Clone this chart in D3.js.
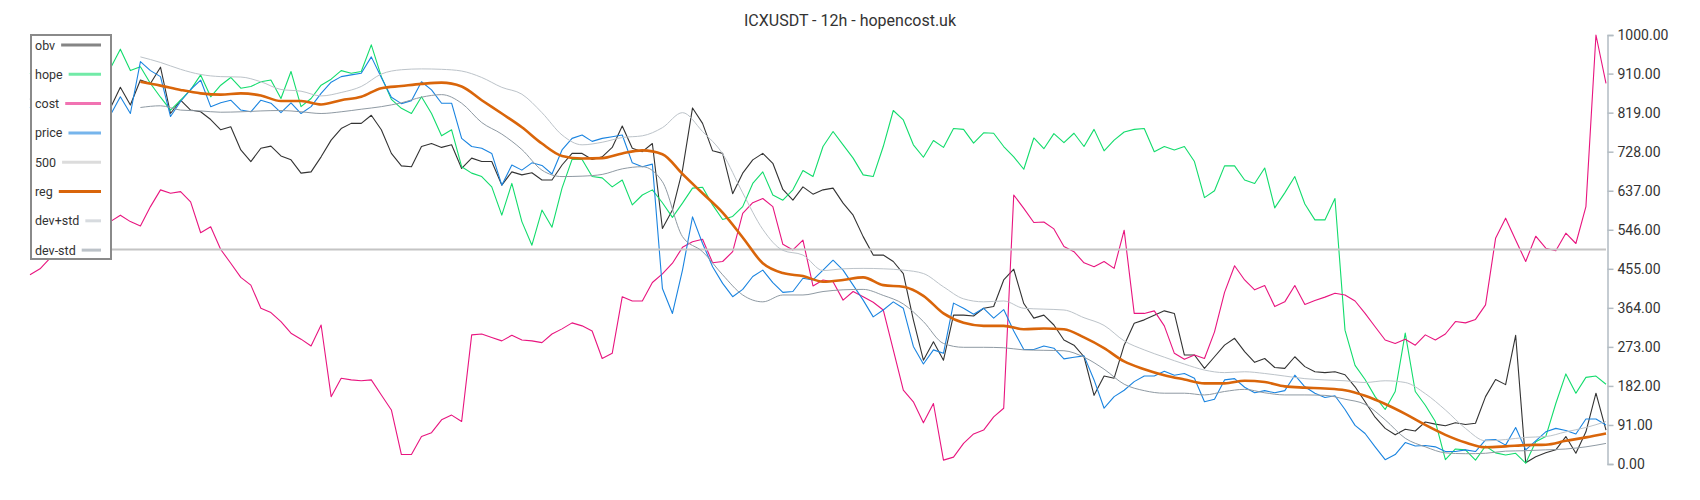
<!DOCTYPE html>
<html>
<head>
<meta charset="utf-8">
<script src="https://cdn.jsdelivr.net/npm/d3@7"></script>
<style>
  body { margin: 0; background: #fff; }
  svg { display: block; font-family: Roboto, "Noto Sans", sans-serif; }
</style>
</head>
<body>
<svg id="chart" width="1700" height="500"></svg>
<script>
// values, one per 12h step (downsampled)
const obv = [850,870,840,860,880,850,830,810,829,878,837,895,887,925,817,848,825,821,803,779,
  786,732,705,736,741,718,709,678,681,716,755,782,794,794,813,779,724,695,693,740,
  747,738,744,689,713,705,705,650,681,674,679,662,662,697,724,724,710,716,738,788,
  736,728,747,549,592,685,830,794,730,724,630,678,709,724,701,640,615,646,629,639,
  643,608,580,530,487,487,472,444,336,242,285,242,347,347,345,363,367,429,454,374,
  340,347,324,289,277,250,160,205,200,277,328,336,347,357,351,254,254,223,250,277,
  293,262,237,246,225,223,250,227,215,213,215,208,180,145,109,83,68,81,77,98,
  93,89,96,92,95,157,197,185,300,3,17,26,33,64,25,75,165,79];

const hope = [910,930,950,925,900,940,960,935,922,967,917,926,887,855,825,848,872,907,856,883,
  901,876,880,891,895,852,915,833,852,883,897,917,911,915,977,903,850,829,817,856,
  817,765,779,693,678,670,646,580,654,565,510,592,552,643,710,710,670,667,646,662,
  604,627,639,609,575,608,643,645,604,570,577,600,654,681,627,615,639,684,670,740,
  775,744,713,674,670,740,824,802,744,715,754,738,782,780,748,772,771,740,716,687,
  760,735,770,749,771,740,780,730,755,774,780,782,728,740,732,740,705,621,637,695,
  695,662,654,690,597,632,670,606,569,569,619,312,230,197,157,127,169,305,169,137,
  99,10,35,33,9,42,26,21,25,2,52,64,141,210,165,202,205,186];

const cost = [441,455,480,520,540,555,560,565,565,580,565,555,600,639,631,635,611,539,553,500,
  468,435,417,363,353,332,305,291,275,324,157,200,196,194,196,161,126,22,22,64,
  73,103,114,99,301,303,295,287,300,289,287,283,303,315,329,322,310,246,258,390,
  380,380,423,443,468,505,518,524,469,472,495,584,609,619,600,512,499,522,415,429,
  425,382,402,390,377,359,266,172,145,96,141,9,16,48,70,79,110,130,627,596,
  563,564,548,507,495,469,460,472,456,545,351,351,357,322,258,244,254,246,308,400,
  462,429,406,416,367,378,416,372,381,389,398,394,380,351,320,289,281,291,277,301,
  289,303,332,329,337,371,526,573,522,472,531,503,497,538,514,600,1000,887];

const price = [830,850,860,840,870,850,830,800,813,856,817,938,917,903,810,845,873,895,833,842,
  848,825,821,848,841,819,842,817,833,864,890,903,907,911,949,901,855,840,847,891,
  872,841,841,759,740,736,724,650,697,685,702,696,676,732,759,767,752,759,763,767,
  702,693,699,409,351,452,576,514,460,421,390,407,437,452,423,400,402,433,429,452,
  475,452,417,382,343,359,378,363,274,233,266,258,375,363,349,363,340,360,310,267,
  267,275,270,245,249,252,196,130,157,172,192,205,205,216,207,211,200,145,151,196,
  199,179,166,171,166,171,207,180,165,155,159,127,90,71,40,10,22,50,42,43,
  40,29,29,33,29,56,57,44,85,33,54,75,83,78,70,105,105,91];

// smooth series start at step 11 and are read every 2nd step
const smoothStart = 11;
const smoothStep = 2;

const reg = [891,882,872,864,861,864,859,846,846,838,848,856,876,881,886,889,880,848,817,785,
  747,718,712,713,724,731,722,676,631,586,528,468,445,438,425,429,435,417,413,392,
  351,329,322,322,314,316,314,295,270,239,221,207,197,188,188,194,191,181,178,176,
  172,159,140,117,91,68,50,39,41,44,45,54,62,71];

const devPlus = [949,936,920,908,903,902,891,873,869,858,866,880,909,919,921,920,916,901,878,862,
  819,767,744,750,761,765,784,819,775,723,632,547,498,487,451,455,456,455,452,444,
  413,385,378,380,363,361,359,341,323,287,266,249,233,219,213,215,211,205,199,196,
  194,190,194,190,164,126,83,54,57,62,64,75,85,99];

const devMinus = [831,835,825,823,820,821,823,824,821,817,821,827,833,842,855,861,841,796,769,733,
  685,670,671,675,688,693,658,530,495,441,394,378,394,394,402,406,407,393,373,332,
  281,272,272,271,266,265,264,249,221,186,171,165,165,161,169,174,166,161,161,160,
  151,139,103,60,40,26,24,25,30,31,33,35,40,48];

const level = 500;
const tickValues = [0, 91, 182, 273, 364, 455, 546, 637, 728, 819, 910, 1000];
const title = 'ICXUSDT - 12h - hopencost.uk';

const svg = d3.select('#chart');

const x = d3.scaleLinear().domain([0, obv.length - 1]).range([30, 1606]);
const y = d3.scaleLinear().domain([0, 1000]).range([464, 35]);

const rawLine = d3.line()
  .x((d, i) => x(i))
  .y((d) => y(d));

const smoothLine = d3.line()
  .x((d, i) => x(smoothStart + i * smoothStep))
  .y((d) => y(d))
  .curve(d3.curveMonotoneX);

const series = [
  { name: 'obv', color: '#333333', width: 1.1, path: rawLine(obv) },
  { name: 'hope', color: '#12dc6c', width: 1.1, path: rawLine(hope) },
  { name: 'cost', color: '#e8157f', width: 1.1, path: rawLine(cost) },
  { name: 'price', color: '#1a84e0', width: 1.1, path: rawLine(price) },
  { name: '500', color: '#c4c4c4', width: 2, path: rawLine(obv.map(() => level)) },
  { name: 'reg', color: '#d9650a', width: 2.6, path: smoothLine(reg) },
  { name: 'dev+std', color: '#bcc3c9', width: 1, path: smoothLine(devPlus) },
  { name: 'dev-std', color: '#8f9aa3', width: 1, path: smoothLine(devMinus) }
];

svg.append('g')
  .selectAll('path')
  .data(series)
  .enter()
  .append('path')
  .attr('d', (d) => d.path)
  .attr('fill', 'none')
  .attr('stroke', (d) => d.color)
  .attr('stroke-width', (d) => d.width)
  .attr('stroke-linejoin', 'round');

// right axis
const axis = svg.append('g')
  .attr('transform', 'translate(1607.5,0)')
  .call(d3.axisRight(y).tickValues(tickValues).tickFormat(d3.format('.2f')).tickSize(6).tickPadding(4));

axis.select('.domain').attr('stroke', '#b3bcc3').attr('stroke-width', 1.5);
axis.selectAll('.tick line').attr('stroke', '#b3bcc3').attr('stroke-width', 1.5);
axis.selectAll('.tick text')
  .attr('fill', '#333')
  .style('font-size', '14px')
  .style('font-family', 'Roboto, sans-serif');

// title
svg.append('text')
  .attr('x', 850)
  .attr('y', 26)
  .attr('text-anchor', 'middle')
  .attr('fill', '#333')
  .style('font-size', '16px')
  .text(title);

// legend
const legend = svg.append('g');

legend.append('rect')
  .attr('x', 31)
  .attr('y', 35)
  .attr('width', 80)
  .attr('height', 224)
  .attr('fill', '#fff')
  .attr('stroke', '#8a8a8a')
  .attr('stroke-width', 2);

const legendItem = legend.selectAll('g.item')
  .data(series)
  .enter()
  .append('g')
  .attr('class', 'item')
  .attr('transform', (d, i) => 'translate(0,' + (45 + i * 29.3) + ')');

legendItem.append('text')
  .attr('x', 35)
  .attr('y', 4.5)
  .attr('fill', '#333')
  .style('font-size', '12.5px')
  .text((d) => d.name);

legendItem.append('line')
  .attr('x1', function() { return 35 + this.parentNode.querySelector('text').getComputedTextLength() + 6; })
  .attr('x2', 101)
  .attr('y1', 0)
  .attr('y2', 0)
  .attr('stroke', (d) => d.color)
  .attr('stroke-width', 3)
  .attr('stroke-opacity', (d) => d.name === 'reg' ? 1 : 0.6);
</script>
</body>
</html>
